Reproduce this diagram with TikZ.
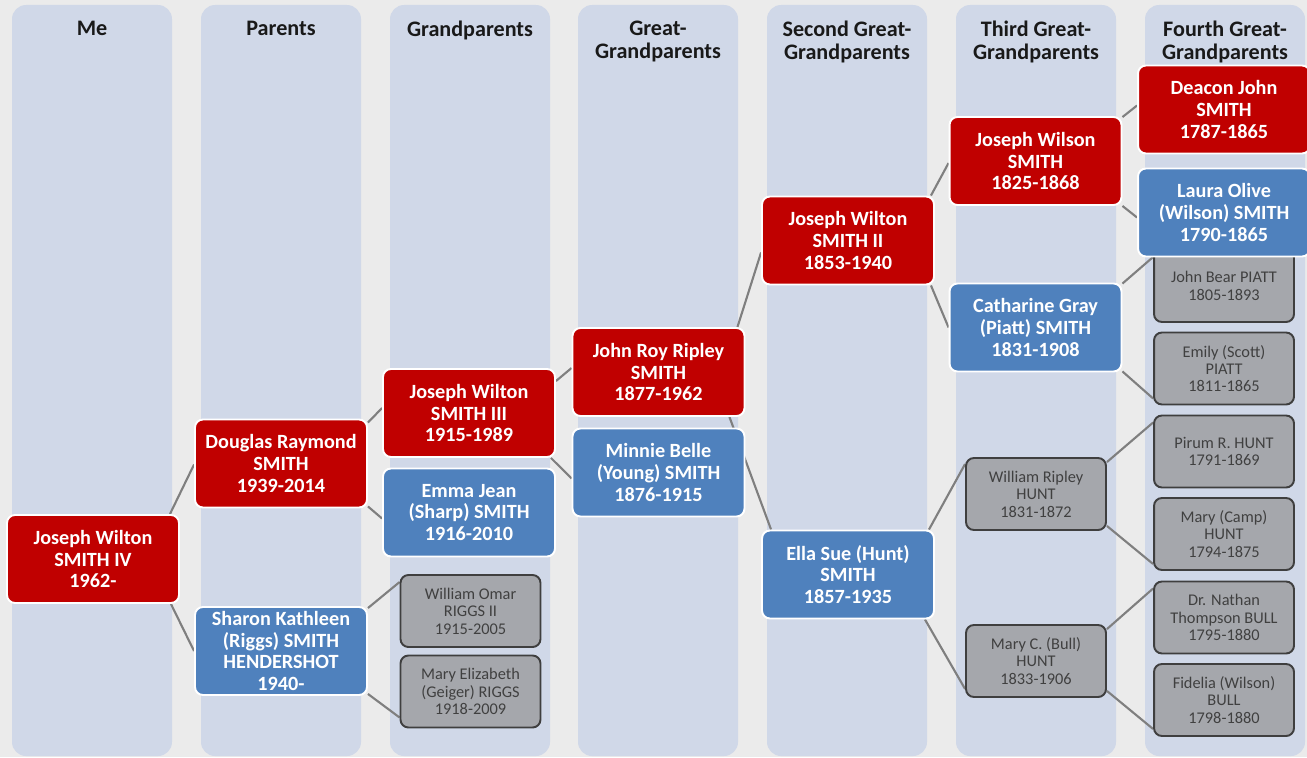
\documentclass[tikz,border=0pt]{standalone}
\usepackage{fontspec}
\setmainfont{Carlito}
\usepackage{xcolor}
\usepackage{tikz}
\usetikzlibrary{positioning,calc,backgrounds}

\definecolor{malered}{HTML}{C00000}
\definecolor{femaleblue}{HTML}{4F81BD}
\definecolor{colfill}{HTML}{D0D8E8}
\definecolor{pagebg}{HTML}{EBEBEB}
\definecolor{boxgray}{HTML}{A5A7AC}
\definecolor{boxedge}{HTML}{3F3F3F}
\definecolor{boxtext}{HTML}{404040}
\definecolor{linkgray}{HTML}{7F7F7F}

\tikzset{
    person/.style={rounded corners=4.5pt, draw=white, line width=1.1pt,
        minimum width=3.44cm, minimum height=1.76cm, inner sep=0pt,
        align=center, text=white, font=\bfseries\fontsize{11.5}{12.4}\selectfont},
    male/.style={person, fill=malered},
    female/.style={person, fill=femaleblue},
    distant/.style={rounded corners=4.5pt, draw=boxedge, line width=1.1pt, fill=boxgray,
        minimum width=2.8cm, minimum height=1.44cm, inner sep=0pt,
        align=center, text=boxtext, font=\fontsize{9.3}{9.9}\selectfont},
    gencol/.style={fill=colfill, rounded corners=8pt},
    gentitle/.style={anchor=north, align=center, text=black!90,
        font=\bfseries\fontsize{12.6}{13}\selectfont},
    link/.style={draw=linkgray, line width=1.2pt}
}

\begin{document}
\begin{tikzpicture}[x=0.02cm, y=-0.02cm]
    \useasboundingbox (0,0) rectangle (1307,757);
    \clip (0,0) rectangle (1307,757);

    % Generation columns
    \begin{pgfonlayer}{background}
        \fill[pagebg] (0,0) rectangle (1307,757);
        \foreach \x in {12,201,390,578,767,956,1145}
            \fill[gencol] (\x,5) rectangle ++(160,751);
    \end{pgfonlayer}
    \foreach \x/\t [count=\i] in {92/Me, 281/Parents, 470/Grandparents,
            658/{Great-\\Grandparents}, 847/{Second Great-\\Grandparents},
            1036/{Third Great-\\Grandparents}, 1225/{Fourth Great-\\Grandparents}}
        \node[gentitle] (title\i) at (\x,15) {\t};

    % Me and parents
    \node[male] (me) at (93,559) {Joseph Wilton\\SMITH IV\\1962-};
    \node[male] (douglas) at (281,463.5) {Douglas Raymond\\SMITH\\1939-2014};
    \node[female] (sharon) at (281,651) {Sharon Kathleen\\(Riggs) SMITH\\HENDERSHOT\\1940-};

    % Grandparents
    \node[male] (jw3) at (469,413) {Joseph Wilton\\SMITH III\\1915-1989};
    \node[female] (emma) at (469,512.5) {Emma Jean\\(Sharp) SMITH\\1916-2010};
    \node[distant] (omar) at (470.5,611) {William Omar\\RIGGS II\\1915-2005};
    \node[distant] (maryeliz) at (470.5,691.5) {Mary Elizabeth\\(Geiger) RIGGS\\1918-2009};

    % Great-grandparents
    \node[male] (johnroy) at (658.5,372) {John Roy Ripley\\SMITH\\1877-1962};
    \node[female] (minnie) at (658.5,472.5) {Minnie Belle\\(Young) SMITH\\1876-1915};

    % Second great-grandparents
    \node[male] (jw2) at (848,240.5) {Joseph Wilton\\SMITH II\\1853-1940};
    \node[female] (ella) at (848,574.5) {Ella Sue (Hunt)\\SMITH\\1857-1935};

    % Third great-grandparents
    \node[male] (jwilson) at (1035.5,161) {Joseph Wilson\\SMITH\\1825-1868};
    \node[female] (catharine) at (1035.5,327.5) {Catharine Gray\\(Piatt) SMITH\\1831-1908};
    \node[distant] (wripley) at (1036,494) {William Ripley\\HUNT\\1831-1872};
    \node[distant] (maryc) at (1036,661) {Mary C. (Bull)\\HUNT\\1833-1906};

    % Fourth great-grandparents
    \node[male] (deacon) at (1224,109.5) {Deacon John\\SMITH\\1787-1865};
    \node[distant] (johnbear) at (1224,286) {John Bear PIATT\\1805-1893};
    \node[female] (laura) at (1224,212.5) {Laura Olive\\(Wilson) SMITH\\1790-1865};
    \node[distant] (emily) at (1224,368.5) {Emily (Scott)\\PIATT\\1811-1865};
    \node[distant] (pirum) at (1224,451.5) {Pirum R. HUNT\\1791-1869};
    \node[distant] (marycamp) at (1224,534) {Mary (Camp)\\HUNT\\1794-1875};
    \node[distant] (nathan) at (1224,617.5) {Dr. Nathan\\Thompson BULL\\1795-1880};
    \node[distant] (fidelia) at (1224,700) {Fidelia (Wilson)\\BULL\\1798-1880};

    % Links, behind the boxes
    \begin{pgfonlayer}{background}
        \draw[link] ($(me.north east)+(-10,0)$) -- ($(douglas.west)+(0,1)$);
        \draw[link] ($(me.south east)+(-9,0)$) -- (sharon.west);
        \draw[link] ($(douglas.north east)+(0,4)$) -- ($(jw3.west)+(0,-5)$);
        \draw[link] ($(douglas.south east)+(0,-2)$) -- ($(emma.west)+(0,6)$);
        \draw[link] ($(sharon.north east)+(0,2)$) -- ($(omar.north west)+(0,8)$);
        \draw[link] ($(sharon.south east)+(0,-2)$) -- ($(maryeliz.south west)+(0,-11)$);
        \draw[link] ($(jw3.north east)+(0,13)$) -- ($(johnroy.west)+(0,-4)$);
        \draw[link] ($(jw3.south east)+(-5,0)$) -- ($(minnie.west)+(0,6)$);
        \draw[link] ($(johnroy.north east)+(-8,0)$) -- ($(jw2.west)+(0,12)$);
        \draw[link] ($(johnroy.south east)+(-16,0)$) -- ($(ella.north west)+(10,0)$);
        \draw[link] ($(jw2.north east)+(-4,0)$) -- ($(jwilson.west)+(0,2)$);
        \draw[link] ($(jw2.south east)+(-4,0)$) -- (catharine.west);
        \draw[link] ($(jwilson.north east)+(0,1)$) -- ($(deacon.west)+(0,-4)$);
        \draw[link] (jwilson.south east) -- ($(laura.west)+(0,5)$);
        \draw[link] ($(catharine.north east)+(0,1)$) -- ($(johnbear.north west)+(0,8)$);
        \draw[link] ($(catharine.south east)+(0,-1)$) -- ($(emily.south west)+(0,-7)$);
        \draw[link] ($(ella.north east)+(-6,0)$) -- ($(wripley.north west)+(0,7)$);
        \draw[link] ($(ella.south east)+(-10,0)$) -- ($(maryc.south west)+(0,-9)$);
        \draw[link] ($(wripley.north east)+(0,5)$) -- ($(pirum.north west)+(0,8)$);
        \draw[link] ($(wripley.south east)+(0,-5)$) -- ($(marycamp.south west)+(0,-7)$);
        \draw[link] ($(maryc.north east)+(0,5)$) -- ($(nathan.north west)+(0,8)$);
        \draw[link] ($(maryc.south east)+(0,-7)$) -- ($(fidelia.south west)+(0,-8)$);
    \end{pgfonlayer}
\end{tikzpicture}
\end{document}
